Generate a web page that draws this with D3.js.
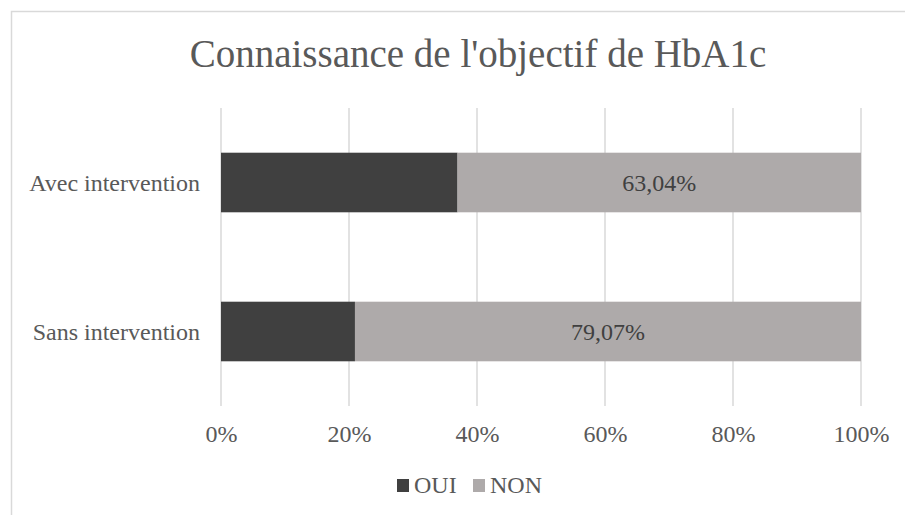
<!DOCTYPE html>
<html><head><meta charset="utf-8">
<script src="https://cdn.jsdelivr.net/npm/d3@7"></script>
<style>body{margin:0;background:#fff}svg{display:block}</style>
</head><body>
<script>
const title = "Connaissance de l'objectif de HbA1c";
const categories = ["Avec intervention", "Sans intervention"];
const seriesNames = ["OUI", "NON"];
const oui = [36.96, 20.93];
const non = [63.04, 79.07];
const nonLabels = ["63,04%", "79,07%"];
const ticks = [0, 20, 40, 60, 80, 100];
const colors = ["#404040", "#AEAAAA"];

const FONT = "'Liberation Serif', 'Times New Roman', Times, serif";
const W = 905, H = 515;
const svg = d3.select("body").append("svg").attr("width", W).attr("height", H);
svg.append("rect").attr("x", 11.5).attr("y", 11.5).attr("width", W).attr("height", H)
  .attr("fill", "#fff").attr("stroke", "#D9D9D9").attr("stroke-width", 1.5);

const x = d3.scaleLinear().domain([0, 100]).range([221, 861]);
const y = d3.scaleBand().domain(categories).range([108, 406]).paddingInner(0.6).paddingOuter(0.3);

function txt(sel) { return sel.style("font-family", FONT).style("fill", "#595959"); }

txt(svg.append("text")).attr("x", 478).attr("y", 67).attr("text-anchor", "middle")
  .style("font-size", "39px").text(title);

const grid = svg.append("g");
grid.selectAll("line").data(ticks).join("line")
  .attr("x1", d => x(d)).attr("x2", d => x(d)).attr("y1", 108).attr("y2", 406)
  .attr("stroke", "#D9D9D9").attr("stroke-width", 1.5);

const rows = categories.map((c, i) => ({c, vals: [oui[i], non[i]], lab: nonLabels[i]}));
rows.forEach(r => {
  let acc = 0;
  r.vals.forEach((v, k) => {
    svg.append("rect").attr("x", x(acc)).attr("width", x(acc + v) - x(acc))
      .attr("y", y(r.c)).attr("height", y.bandwidth()).attr("fill", colors[k]);
    acc += v;
  });
  txt(svg.append("text")).attr("x", (x(r.vals[0]) + x(100)) / 2)
    .attr("y", y(r.c) + y.bandwidth() / 2).attr("dy", "0.36em")
    .attr("text-anchor", "middle").style("font-size", "24px").style("fill", "#404040").text(r.lab);
  txt(svg.append("text")).attr("x", 200).attr("y", y(r.c) + y.bandwidth() / 2).attr("dy", "0.36em")
    .attr("text-anchor", "end").style("font-size", "24px").text(r.c);
});

const axis = d3.axisBottom(x).tickValues(ticks).tickFormat(d => d + "%").tickSize(0).tickPadding(0);
const ag = svg.append("g").attr("transform", "translate(0,442)").call(axis);
ag.attr("font-family", null).attr("font-size", null);
ag.select(".domain").remove();
txt(ag.selectAll("text")).attr("dy", 0).style("font-size", "24px");

const leg = [{n: seriesNames[0], sx: 397, tx: 414}, {n: seriesNames[1], sx: 473, tx: 490}];
leg.forEach((l, i) => {
  svg.append("rect").attr("x", l.sx).attr("y", 479).attr("width", 12).attr("height", 13).attr("fill", colors[i]);
  txt(svg.append("text")).attr("x", l.tx).attr("y", 493).style("font-size", "24px").text(l.n);
});
</script>
</body></html>
